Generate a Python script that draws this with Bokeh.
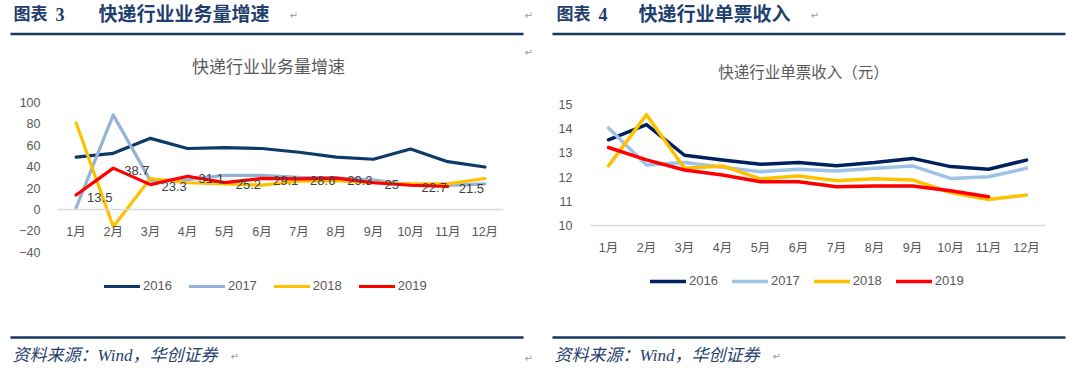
from bokeh.plotting import figure
from bokeh.models import Range1d, FactorRange, FixedTicker, Legend, LegendItem
from bokeh.layouts import row, column
from bokeh.core.properties import value
from bokeh.embed import file_html
from bokeh.resources import INLINE

# ---------------- data ----------------
months = ["1月", "2月", "3月", "4月", "5月", "6月", "7月", "8月", "9月", "10月", "11月", "12月"]
years = ["2016", "2017", "2018", "2019"]

# 快递行业业务量增速 (%)
vol_2016 = [49, 52.5, 66.5, 57, 57.8, 57, 53.5, 49, 47, 56.5, 44.7, 39.7]
vol_2017 = [1.6, 88.4, 27, 28, 32, 32, 30, 29.7, 27.5, 23, 22.5, 24]
vol_2018 = [81, -16, 29, 25, 24, 22.8, 26.5, 27, 25, 24, 24, 29]
vol_2019 = [13.5, 38.7, 23.3, 31.1, 25.2, 29.1, 28.6, 29.3, 25, 22.7, 21.5]
vol_2019_labels = ["13.5", "38.7", "23.3", "31.1", "25.2", "29.1", "28.6", "29.3", "25", "22.7", "21.5"]
vol_ticks = [-40, -20, 0, 20, 40, 60, 80, 100]

# 快递行业单票收入 (元)
rev_2016 = [13.54, 14.17, 12.9, 12.7, 12.53, 12.6, 12.47, 12.6, 12.77, 12.43, 12.32, 12.7]
rev_2017 = [14.03, 12.5, 12.6, 12.4, 12.22, 12.32, 12.25, 12.36, 12.46, 11.94, 12.01, 12.36]
rev_2018 = [12.46, 14.58, 12.36, 12.46, 11.92, 12.04, 11.85, 11.93, 11.88, 11.36, 11.07, 11.25]
rev_2019 = [13.22, 12.71, 12.29, 12.08, 11.8, 11.8, 11.6, 11.63, 11.63, 11.43, 11.18]
rev_ticks = [10, 11, 12, 13, 14, 15]

# ---------------- styles ----------------
SANS = "'Liberation Sans', 'Noto Sans CJK SC', sans-serif"
SERIF = "'Liberation Serif', 'Noto Sans CJK SC', serif"
NAVY_RULE = "#17375E"
HEAD_COLOR = "#1F3F6E"
GREY_TXT = "#595959"
PANEL_W = 535


def deco(h, top):
    f = figure(width=PANEL_W, height=h, x_range=Range1d(0, PANEL_W), y_range=Range1d(top + h, top),
               min_border=0, toolbar_location=None, output_backend="svg",
               x_axis_type=None, y_axis_type=None)
    f.frame_align = False
    f.outline_line_color = None
    f.grid.visible = False
    f.background_fill_color = "white"
    f.border_fill_color = "white"
    return f


def txt(f, x, y, s, size, color, font=SANS, style="normal", align="left"):
    f.text(x=[x], y=[y], text=[s], text_font=value(font), text_font_size=value(size),
           text_color=color, text_font_style=style, text_align=align, text_baseline="middle")


def header(num, name, name_x, title, title_y, title_size, rule_x0, rule_x1, num_x, pil_x, marks):
    f = deco(90, 0)
    txt(f, num_x, 14, "图表", "17px", HEAD_COLOR, SERIF, "bold")
    txt(f, num_x + 42, 14, num, "18px", HEAD_COLOR, SERIF, "bold")
    txt(f, name_x, 14, name, "19px", HEAD_COLOR, SERIF, "bold")
    txt(f, pil_x, 15, "↵", "10px", "#9A9A9A", "DejaVu Sans")
    for mx, my in marks:
        txt(f, mx, my, "↵", "10px", "#9A9A9A", "DejaVu Sans")
    f.line([rule_x0, rule_x1], [33.4, 33.4], line_width=2.5, line_color=NAVY_RULE)
    txt(f, 268, title_y, title, title_size, GREY_TXT, SANS, "normal", "center")
    return f


def footer(rule_x0, rule_x1, text_x, pil_x, marks):
    f = deco(55, 320)
    f.line([rule_x0, rule_x1], [337, 337], line_width=2.5, line_color=NAVY_RULE)
    txt(f, text_x, 355, "资料来源：Wind，华创证券", "17px", HEAD_COLOR, SERIF, "italic")
    txt(f, pil_x, 356, "↵", "10px", "#9A9A9A", "DejaVu Sans")
    for mx, my in marks:
        txt(f, mx, my, "↵", "10px", "#9A9A9A", "DejaVu Sans")
    return f


def style_axes(p, ticks, x_standoff):
    p.frame_align = False
    p.outline_line_color = None
    p.xgrid.visible = False
    p.ygrid.visible = False
    p.yaxis.ticker = FixedTicker(ticks=ticks)
    p.yaxis.axis_line_color = None
    p.yaxis.major_tick_line_color = None
    p.yaxis.minor_tick_line_color = None
    p.yaxis.major_label_standoff = 11
    p.yaxis.major_label_text_font = SANS
    p.yaxis.major_label_text_font_size = "12.5px"
    p.yaxis.major_label_text_color = GREY_TXT
    p.xaxis.axis_line_color = "#D9D9D9"
    p.xaxis.axis_line_width = 1.5
    p.xaxis.major_tick_line_color = None
    p.xaxis.minor_tick_line_color = None
    p.xaxis.major_label_standoff = x_standoff
    p.xaxis.major_label_text_font = SANS
    p.xaxis.major_label_text_font_size = "12.5px"
    p.xaxis.major_label_text_color = GREY_TXT
    p.background_fill_color = "white"
    p.border_fill_color = "white"


def add_legend(p, renderers, x, y, spacing):
    items = [LegendItem(label=yr, renderers=[r]) for yr, r in zip(years, renderers)]
    lg = Legend(items=items, orientation="horizontal", location=(x, y),
                glyph_width=36, glyph_height=14, label_height=14, label_standoff=3,
                spacing=spacing, padding=0, margin=0, border_line_color=None,
                background_fill_alpha=0, label_text_font=SANS,
                label_text_font_size="13px", label_text_color=GREY_TXT)
    p.add_layout(lg, "center")


# ---------------- left chart ----------------
# frame spans 100 (top) down to the legend row; axis drawn at 0
p1 = figure(width=PANEL_W, height=230, x_range=FactorRange(*months), y_range=Range1d(-85, 100),
            min_border_left=57, min_border_right=32, min_border_top=12, min_border_bottom=20,
            toolbar_location=None, output_backend="svg")
style_axes(p1, vol_ticks, 9)
p1.xaxis.fixed_location = 0
c1 = ["#0E3A6A", "#95B3D7", "#FFC000", "#FF0000"]
r1 = []
for ys, col, n in zip([vol_2016, vol_2017, vol_2018, vol_2019], c1, [12, 12, 12, 11]):
    r1.append(p1.line(months[:n], ys, line_color=col, line_width=3.2, line_join="round", line_cap="round"))
p1.text(x=months[:11], y=vol_2019, text=vol_2019_labels, x_offset=11, y_offset=2,
        text_font=value(SANS), text_font_size=value("13px"), text_color="#404040",
        text_align="left", text_baseline="middle")
add_legend(p1, r1, 47, 7, 17)

# ---------------- right chart ----------------
p2 = figure(width=PANEL_W, height=230, x_range=FactorRange(*months), y_range=Range1d(6.89, 15),
            min_border_left=54, min_border_right=25, min_border_top=14, min_border_bottom=20,
            toolbar_location=None, output_backend="svg")
style_axes(p2, rev_ticks, 10)
p2.xaxis.fixed_location = 10
c2 = ["#002060", "#9DC3E6", "#FFC000", "#FF0000"]
r2 = []
for ys, col, n in zip([rev_2016, rev_2017, rev_2018, rev_2019], c2, [12, 12, 12, 11]):
    r2.append(p2.line(months[:n], ys, line_color=col, line_width=3.5, line_join="round", line_cap="round"))
add_legend(p2, r2, 61, 12, 14)

# ---------------- decorations ----------------
h1 = header("3", "快递行业业务量增速", 98, "快递行业业务量增速", 67, "17px", 10, 523, 13, 289,
            [(524, 15), (524, 52)])
f1 = footer(10, 523, 12, 230, [(524, 358)])
h2 = header("4", "快递行业单票收入", 103, "快递行业单票收入（元）", 72, "15.5px", 17, 530, 21, 275, [])
f2 = footer(17, 530, 19, 237, [])

layout = row(column(h1, p1, f1, spacing=0), column(h2, p2, f2, spacing=0), spacing=0)

open("out.html", "w").write(file_html(layout, INLINE))
